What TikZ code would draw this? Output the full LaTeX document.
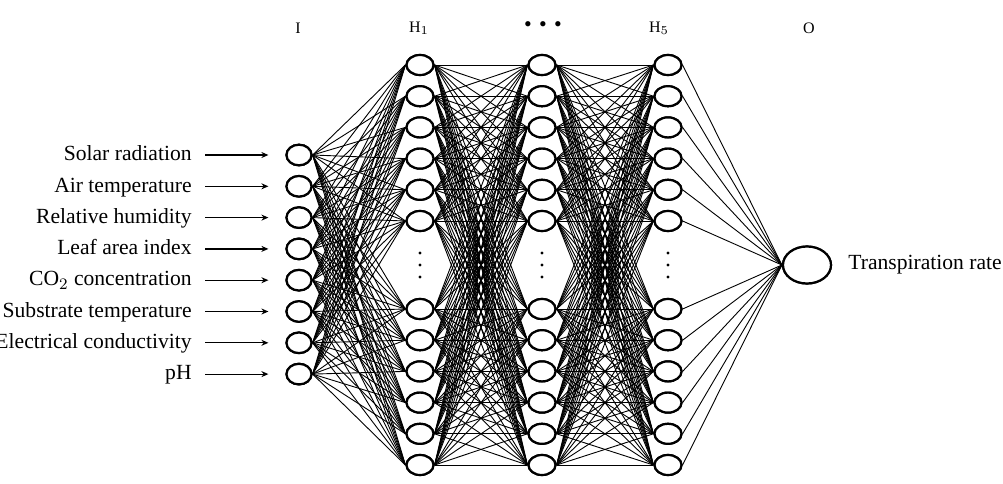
\documentclass[tikz,border=0pt]{standalone}
\usepackage{fontspec}
\setmainfont{Liberation Serif}
\usetikzlibrary{arrows.meta,shapes.geometric}
\begin{document}
\begin{tikzpicture}[x=0.5pt,y=-0.5pt,
  neuron/.style={draw=black, fill=white, line width=1.1pt, ellipse, inner sep=0pt,
                 minimum width=13.5pt, minimum height=10pt},
  inneuron/.style={neuron, minimum width=12.5pt, minimum height=10.3pt},
  outneuron/.style={neuron, minimum width=24pt, minimum height=18.5pt},
  edge/.style={draw=black, line width=0.45pt},
  inarrow/.style={draw=black, line width=0.6pt, -{Stealth[length=3.5pt,width=3pt]},
                  shorten <=6.5pt, shorten >=8.5pt},
  inlabel/.style={anchor=east, inner sep=0pt, text height=1.5ex, text depth=0.25ex,
                  font=\fontsize{10.8}{13}\selectfont},
  toplabel/.style={inner sep=0pt, font=\fontsize{8}{10}\selectfont},
  vdot/.style={circle, fill=black, inner sep=0pt, minimum size=1.6pt}]
\useasboundingbox (0,0) rectangle (1003,483);

% input layer positions and labels
\foreach \i/\y/\t in {1/155/{Solar radiation},2/186.3/{Air temperature},
    3/217.6/{Relative humidity},4/248.9/{Leaf area index},
    5/280.2/{CO$_2$ concentration},6/311.5/{Substrate temperature},
    7/342.8/{Electrical conductivity},8/374.1/{pH}} {
  \coordinate (inp\i) at (299,\y);
  \node[inlabel] (lab\i) at (192,\y) {\t};
}

% hidden layer positions
\foreach \j/\y in {1/65,2/96.2,3/127.4,4/158.6,5/189.8,6/221,
                   7/309,8/340.2,9/371.4,10/402.6,11/433.8,12/465} {
  \coordinate (pa\j) at (420,\y);
  \coordinate (pb\j) at (542,\y);
  \coordinate (pc\j) at (668,\y);
}

% nodes
\foreach \i in {1,...,8} \node[inneuron] (in\i) at (inp\i) {};
\foreach \j in {1,...,12} {
  \node[neuron] (ha\j) at (pa\j) {};
  \node[neuron] (hb\j) at (pb\j) {};
  \node[neuron] (hc\j) at (pc\j) {};
}
\node[outneuron] (out) at (807,265) {};

% connections
\foreach \i in {1,...,8} \foreach \j in {1,...,12}
  \draw[edge] (in\i.east) -- (ha\j.west);
\foreach \i in {1,...,12} \foreach \j in {1,...,12} {
  \draw[edge] (ha\i.east) -- (hb\j.west);
  \draw[edge] (hb\i.east) -- (hc\j.west);
}
\foreach \i in {1,...,12}
  \draw[edge] (hc\i.east) -- (out.west);

% redraw neurons above the connections
\foreach \i in {1,...,8} \node[inneuron] at (inp\i) {};
\foreach \j in {1,...,12} {
  \node[neuron] at (pa\j) {};
  \node[neuron] at (pb\j) {};
  \node[neuron] at (pc\j) {};
}
\node[outneuron] at (807,265) {};

% input arrows
\foreach \i in {1,...,8}
  \draw[inarrow] (lab\i.east) -- (in\i.west);

% vertical dots in hidden layers
\foreach \x/\n in {420/a,542/b,668/c} {
  \node[vdot] (d\n1) at (\x,253) {};
  \node[vdot] (d\n2) at (\x,265) {};
  \node[vdot] (d\n3) at (\x,277) {};
}

% top labels
\node[toplabel] (tI) at (298,28) {I};
\node[toplabel] (tH1) at (419,28) {H$_1$};
\node[toplabel, font=\fontsize{11}{12}\selectfont] (tdots) at (543,27) {\textbullet\hspace{3.7pt}\textbullet\hspace{3.7pt}\textbullet};
\node[toplabel] (tH5) at (659,28) {H$_5$};
\node[toplabel] (tO) at (809,28) {O};

% output label
\node[anchor=west, inner sep=0pt, font=\fontsize{10.8}{13}\selectfont] (outlab) at (848,265) {Transpiration rate};
\end{tikzpicture}
\end{document}
